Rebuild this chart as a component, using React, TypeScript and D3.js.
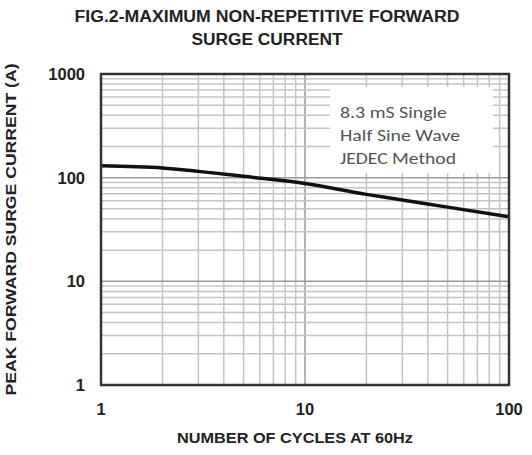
import React from 'react';
import * as d3 from 'd3';

const cycles = [1, 2, 3, 5, 10, 20, 30, 50, 100];
const surgeCurrent = [130, 124, 115, 103, 88, 69, 61, 52, 42];
const xTicks = [1, 10, 100];
const yTicks = [1, 10, 100, 1000];
const noteLines = ['8.3 mS Single', 'Half Sine Wave', 'JEDEC Method'];
const noteWidths = [107, 120, 116];

const W = 532;
const H = 455;
const margin = { top: 74, right: 23, bottom: 70, left: 101 };

// minor grid values for a log axis: 1..9 x each decade
function logGrid(lo: number, hi: number) {
  const out: number[] = [];
  for (let d = lo; d < hi; d *= 10) {
    for (let k = 1; k <= 9; k++) out.push(d * k);
  }
  return out;
}

export default function App() {
  const iw = W - margin.left - margin.right;
  const ih = H - margin.top - margin.bottom;

  const x = d3.scaleLog().domain([1, 100]).range([0, iw]);
  const y = d3.scaleLog().domain([1, 1000]).range([ih, 0]);

  const line = d3.line<number>()
    .x((_, i) => x(cycles[i]))
    .y(d => y(d))
    .curve(d3.curveMonotoneX);

  const font = 'Liberation Sans, Arial, sans-serif';

  return (
    <svg width={W} height={H} style={{ position: 'absolute', left: 0, top: 0, background: '#fff' }}>
      <text x={267} y={22} textAnchor="middle" fontFamily={font} fontWeight="bold" fontSize={16}
        textLength={385} lengthAdjust="spacingAndGlyphs" fill="#222">
        FIG.2-MAXIMUM NON-REPETITIVE FORWARD
      </text>
      <text x={267} y={45} textAnchor="middle" fontFamily={font} fontWeight="bold" fontSize={16}
        textLength={151} lengthAdjust="spacingAndGlyphs" fill="#222">
        SURGE CURRENT
      </text>

      <g transform={`translate(${margin.left},${margin.top})`}>
        {logGrid(1, 100).map((v, i) => (
          <line key={'gx' + i} x1={x(v)} x2={x(v)} y1={0} y2={ih}
            stroke={v === 10 ? '#999' : '#c4c4c4'} strokeWidth={1.5} />
        ))}
        {logGrid(1, 1000).map((v, i) => (
          <line key={'gy' + i} x1={0} x2={iw} y1={y(v)} y2={y(v)}
            stroke={v === 10 || v === 100 ? '#999' : '#c4c4c4'} strokeWidth={1.5} />
        ))}

        <rect x={229} y={13} width={163} height={86} fill="#fff" />
        {noteLines.map((t, i) => (
          <text key={t} x={239} y={44 + i * 23} fontFamily="Carlito, Calibri, 'Open Sans', sans-serif"
            fontSize={i === 2 ? 15.5 : 17} textLength={noteWidths[i]} lengthAdjust="spacingAndGlyphs"
            fill="#555">{t}</text>
        ))}

        <path d={line(surgeCurrent) || ''} fill="none" stroke="#111" strokeWidth={3.5} />

        <rect x={0} y={0} width={iw} height={ih} fill="none" stroke="#333" strokeWidth={2.5} />

        {yTicks.map(v => (
          <text key={'yt' + v} x={-16} y={y(v)} dy="0.36em" textAnchor="end"
            fontFamily={font} fontWeight="bold" fontSize={16.5} fill="#222">{v}</text>
        ))}
        {xTicks.map(v => (
          <text key={'xt' + v} x={x(v)} y={ih + 30} textAnchor="middle"
            fontFamily={font} fontWeight="bold" fontSize={16.5} fill="#222">{v}</text>
        ))}
      </g>

      <text transform={`translate(16,${margin.top + ih / 2}) rotate(-90)`} textAnchor="middle"
        fontFamily={font} fontWeight="bold" fontSize={15} textLength={332} lengthAdjust="spacingAndGlyphs"
        fill="#222">
        PEAK FORWARD SURGE CURRENT (A)
      </text>
      <text x={295} y={443} textAnchor="middle" fontFamily={font} fontWeight="bold" fontSize={15}
        textLength={236} lengthAdjust="spacingAndGlyphs" fill="#222">
        NUMBER OF CYCLES AT 60Hz
      </text>
    </svg>
  );
}
